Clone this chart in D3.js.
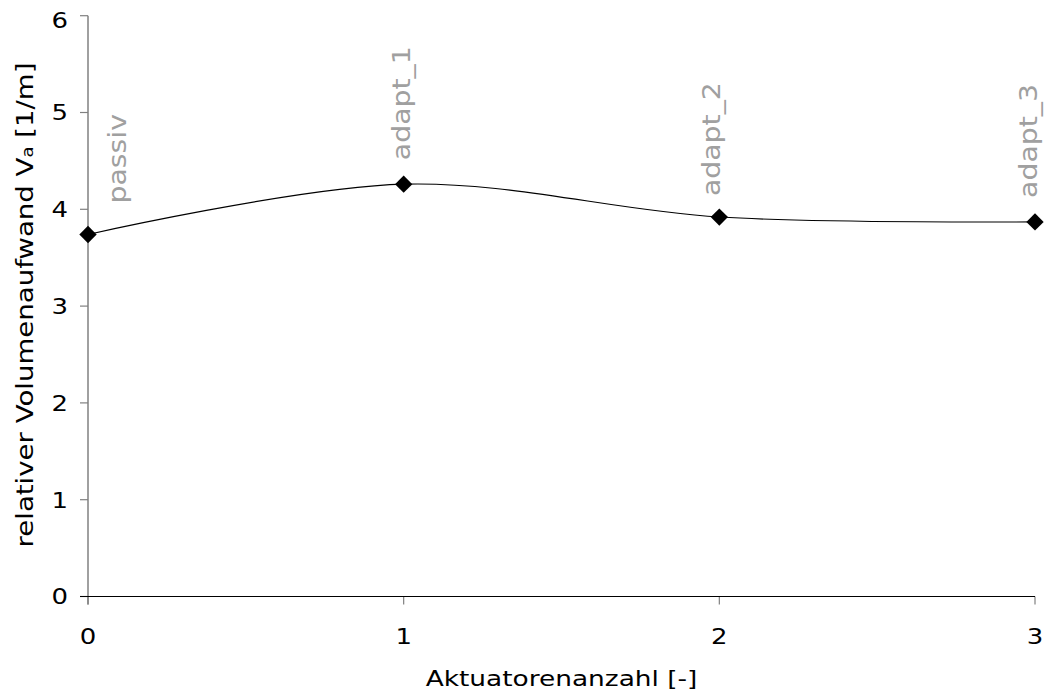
<!DOCTYPE html>
<html>
<head>
<meta charset="utf-8">
<script src="https://cdn.jsdelivr.net/npm/d3@7"></script>
<style>
  html, body { margin: 0; padding: 0; background: #fff; }
  svg { display: block; font-family: "DejaVu Sans", Verdana, sans-serif; }
</style>
</head>
<body>
<svg id="chart" width="1048" height="696"></svg>
<script>
// Aktuatorenanzahl vs. relativer Volumenaufwand
const actuators = [0, 1, 2, 3];
const volume = [3.74, 4.26, 3.92, 3.87];
const pointLabels = ["passiv", "adapt_1", "adapt_2", "adapt_3"];
const xTicks = [0, 1, 2, 3];
const yTicks = [0, 1, 2, 3, 4, 5, 6];

const svg = d3.select("#chart");
const x = d3.scaleLinear().domain([0, 3]).range([88, 1035]);
const y = d3.scaleLinear().domain([0, 6]).range([596.5, 15.7]);

const axisGrey = "#808080";
const fontSize = 22;
const stretch = 1.18;   // wide lettering along the text direction

// y axis line (grey), running slightly below the x axis
svg.append("line")
  .attr("x1", x(0)).attr("x2", x(0))
  .attr("y1", y(6)).attr("y2", y(0) + 8)
  .attr("stroke", axisGrey).attr("stroke-width", 1.5);

// y ticks + labels
svg.selectAll(".ytick").data(yTicks).join("line")
  .attr("class", "ytick")
  .attr("x1", x(0) - 8).attr("x2", x(0))
  .attr("y1", d => y(d)).attr("y2", d => y(d))
  .attr("stroke", axisGrey).attr("stroke-width", 1.2);

svg.selectAll(".ylab").data(yTicks).join("text")
  .attr("class", "ylab")
  .attr("transform", d => `translate(${x(0) - 20},${Math.max(y(d), 20)}) scale(${stretch},1)`)
  .attr("dy", "0.36em")
  .attr("text-anchor", "end")
  .attr("font-size", fontSize)
  .attr("fill", "#000")
  .text(d => d);

// x ticks + labels
svg.selectAll(".xtick").data(xTicks).join("line")
  .attr("class", "xtick")
  .attr("x1", d => x(d)).attr("x2", d => x(d))
  .attr("y1", y(0)).attr("y2", y(0) + 8)
  .attr("stroke", axisGrey).attr("stroke-width", 1.2);

// x axis line (black)
svg.append("line")
  .attr("x1", x(0) - 8).attr("x2", x(3))
  .attr("y1", y(0)).attr("y2", y(0))
  .attr("stroke", "#000").attr("stroke-width", 1.2);

svg.selectAll(".xlab").data(xTicks).join("text")
  .attr("class", "xlab")
  .attr("transform", d => `translate(${x(d)},${y(0) + 47}) scale(${stretch},1)`)
  .attr("text-anchor", "middle")
  .attr("font-size", fontSize)
  .attr("fill", "#000")
  .text(d => d);

// axis titles
svg.append("text")
  .attr("transform", `translate(${(x(0) + x(3)) / 2},686) scale(1.2,1)`)
  .attr("text-anchor", "middle")
  .attr("font-size", fontSize)
  .attr("fill", "#000")
  .text("Aktuatorenanzahl [-]");

const yTitle = svg.append("text")
  .attr("transform", "translate(33,305) rotate(-90) scale(1.2,1)")
  .attr("text-anchor", "middle")
  .attr("font-size", 23)
  .attr("fill", "#000");
yTitle.append("tspan").text("relativer Volumenaufwand V");
yTitle.append("tspan").attr("font-size", 15).text("a");
yTitle.append("tspan").text(" [1/m]");

// smoothed connecting line
const pts = actuators.map((a, i) => [x(a), y(volume[i])]);
svg.append("path")
  .attr("d", d3.line().curve(d3.curveCardinal.tension(0))(pts))
  .attr("fill", "none")
  .attr("stroke", "#000")
  .attr("stroke-width", 1.1);

// diamond markers
svg.selectAll(".marker").data(actuators).join("path")
  .attr("class", "marker")
  .attr("d", d3.symbol(d3.symbolSquare, 150)())
  .attr("transform", (d, i) => `translate(${x(d)},${y(volume[i])}) rotate(45)`)
  .attr("fill", "#000");

// rotated point labels above each marker; "passiv" sits clear of the y axis
const labelDx = [38, 6, 1, 2];
const labelGap = [31, 24, 21, 24];
svg.selectAll(".plab").data(actuators).join("text")
  .attr("class", "plab")
  .attr("transform", (d, i) =>
    `translate(${x(d) + labelDx[i]},${y(volume[i]) - labelGap[i]}) rotate(-90) scale(${stretch},1)`)
  .attr("text-anchor", "start")
  .attr("font-size", 24)
  .attr("fill", "#a0a0a0")
  .text((d, i) => pointLabels[i]);
</script>
</body>
</html>
